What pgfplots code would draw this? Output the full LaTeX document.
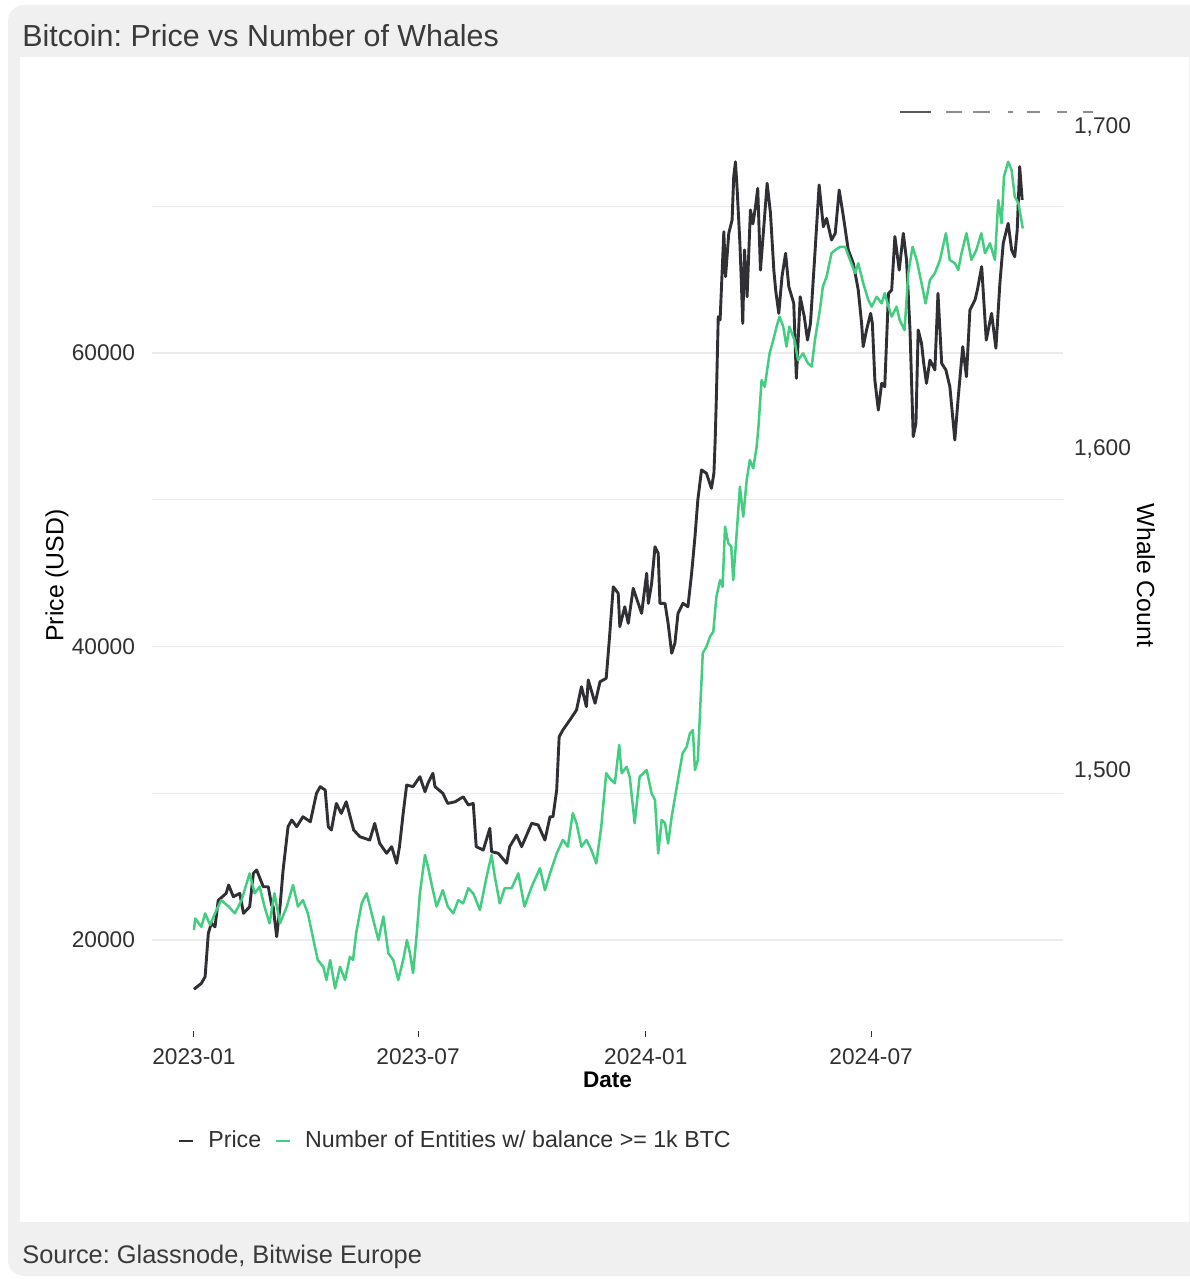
\documentclass[border=0pt]{standalone}
\usepackage{pgfplots}
\pgfplotsset{compat=1.18}
\usepackage{pgfplotstable}
\usepackage{fontspec}
\setmainfont{Liberation Sans}
\frenchspacing

\definecolor{pricec}{HTML}{2F2F34}
\definecolor{whalec}{HTML}{43CD80}
\definecolor{gridc}{HTML}{EBEBEB}
\definecolor{framec}{HTML}{F0F0F0}
\definecolor{headc}{HTML}{3A3A3A}
\definecolor{tickc}{HTML}{303030}

% x = days since 2023-01-01
\pgfplotstableread{
day price
0 16640
6 17050
9 17500
11.6 20450
14 21140
17 20900
19.6 22700
26 23180
28 23750
31.8 22950
37 23180
40 21820
45 22270
48 24545
50.6 24770
56 23630
60 23630
62.7 22380
64 22270
66.8 20230
69.5 22270
72 24770
76 27720
79 28180
83 27720
88 28400
94 28060
99 30000
102 30450
106 30220
108.5 27720
111 27500
115 29310
119 28630
123 29420
129 27500
134 27040
142 26810
146 27950
150 26590
155.6 25910
159.7 26360
163.7 25230
166 26360
169 28630
171.8 30560
177 30450
182.5 31130
186.6 30100
189 30680
193 31360
194.7 30450
201 30000
205 29310
211 29420
217.5 29760
221.6 29200
225.6 29310
228 26360
233.7 26130
239 27610
240.4 26020
245.8 25910
252.6 25230
255 26360
260.6 27150
264.7 26360
272.8 27950
278 27840
283.5 26810
287.6 28400
290 28400
293 30220
295 33850
298 34310
303.7 35000
309 35670
313 37260
317 35900
318.5 37720
324 36130
328 37600
333 37830
335.5 40440
338.7 44070
342.7 43620
344 41350
348 42710
350.8 41580
354.8 43960
361.6 42260
365.7 44990
367 42940
369.7 44300
372.4 46800
375 46350
376.4 42940
380.5 42940
383 41580
385.9 39540
388.5 40220
391 42260
395 42940
399 42710
402 44990
404.7 47480
407 49980
410 52030
414 51800
418 50780
420 51800
421 54000
422 57000
423.5 62470
425 62250
428 68260
429.4 65200
432 68150
434.7 69060
436 72010
437.4 73030
438.8 71100
441 67470
442 65200
443.3 62020
444.7 67020
446.8 63830
449.5 69740
451.5 68800
453.6 69970
455.4 71220
457.6 65650
460.3 68600
463 71560
465.7 69520
468.4 65650
470 64200
472.4 62700
475 65200
477.9 66790
480.5 64520
484.5 63380
486.6 58270
489.7 63830
493 62470
495.6 60880
498 62020
501.6 66790
505 71450
508.4 68600
511 69170
515 67700
518 68150
521.2 71100
524.6 69290
528.5 67020
532.6 66110
536.6 64290
539.3 62020
540.6 60430
543.3 61570
546.6 62700
548 62020
550 58160
552.8 56110
555.5 57930
558 57700
561 64060
563.6 64290
566.2 67930
569.7 65650
573 68150
575.6 66330
578.4 61570
581 54300
583.2 55210
585 61570
587.7 60660
589.5 59290
591.7 57930
594.5 59520
598.5 58840
601 64060
604 59290
607.4 58840
610.6 57700
614.6 54070
617.4 57020
621 60430
624 58380
626.8 62930
630.9 63610
632.8 64290
636.3 65880
640 60880
644.3 62700
647.8 60320
651 64740
653.7 67470
657.7 68830
660.5 67020
663 66560
665 68380
667 72700
669 70430
}\pricetable

\pgfplotstableread{
day whales
0 1450.6
1 1454.2
6 1451.6
9 1455.8
13 1452.2
17 1455.8
22 1459.9
28 1457.9
33 1455.8
38.5 1459.9
42.5 1465.1
45 1468.2
49 1462
53 1464.1
57 1457.9
61 1452.7
65 1462
69.5 1452.7
75 1457.9
80 1464.6
84 1457.9
88 1459.9
92 1455.8
96 1448.5
100 1441.3
104.5 1439.2
107 1435.1
110 1441.3
114 1432.5
118 1439.2
122 1435.1
126 1442.3
128.5 1441.3
131 1449.6
135.5 1458.9
139.5 1462
143.5 1455.8
149 1447.5
153 1454.8
157 1443.4
161 1441.3
165 1435.1
169 1441.3
172 1447.5
174.5 1443.4
177 1437.2
180 1449.6
182.5 1462
186.6 1473.9
189 1470.3
193 1463
196 1457.9
201 1463
205 1457.9
209.5 1455.8
213.5 1459.9
217.5 1458.9
221.6 1463.6
225.6 1462
231 1456.8
236.4 1467.2
240.4 1473.9
243 1467.2
247 1458.9
251 1463.6
256.6 1463.6
262 1468.2
267 1457.9
272.8 1464.1
279.5 1469.8
283.5 1463
287.6 1468.2
293 1474.4
298 1478.6
302 1476.5
306 1486.9
309 1483.8
313 1476.5
317 1478.6
321 1475.5
325 1471.3
329 1482.7
333 1499.3
337 1497.2
340 1496.2
343.5 1508.1
345.5 1499.3
349.5 1501.3
352 1498.2
356 1483.8
360 1498.2
365.7 1500.3
369.7 1493
372.4 1491
375 1474.4
377.8 1484.8
380.5 1483.8
383 1477.5
385.9 1485.8
390 1495.1
394.7 1505.5
398 1507.5
400.6 1511.7
403 1512.7
404.7 1500.3
407 1503.4
409 1520
411 1536.6
414 1538.6
416.8 1541.7
419.5 1543.3
422 1554.1
425 1559.3
427 1557.2
429 1575.9
431.6 1570.7
434 1569.7
435.6 1559.3
438 1571.7
441 1588.3
443.7 1579
446.5 1590.4
449 1596.6
451.8 1594
454.5 1600.7
456 1606.9
458.5 1621.4
461 1619.3
465 1629.7
468 1633.9
470.6 1638
473 1641.1
476 1638
478.6 1631.8
481 1638
485 1633.9
488 1627.6
492 1629.7
496 1626.6
499 1625.6
501.6 1633.9
505.6 1643.2
508 1650.4
511 1653.5
515 1660.8
518 1661.8
522 1662.8
526 1662.8
530 1658.7
534 1654.6
536.6 1657.7
540.6 1651.5
544.7 1646.3
547.5 1644.2
551.5 1647.3
555.5 1645.2
558 1648.4
561 1644.2
563.6 1641.1
567.6 1644.2
570 1640.1
574 1636.9
577 1654.6
580.5 1662.8
583.8 1658.7
587.7 1651.5
591 1645.2
594.5 1652.5
598.5 1654.6
602.6 1658.7
607.4 1667
610.5 1658.7
614.6 1657.7
617.4 1655.6
620 1660.8
624 1667
628 1658.7
632 1661.8
636 1667
639 1660.8
643 1663.9
647 1658.7
649.7 1677.3
652.4 1670.1
654.3 1684.6
657.7 1689.2
660.5 1686.6
663 1678.4
666 1676.3
669.5 1668.5
}\whaletable

\pgfplotsset{
  panel/.style={
    at={(76pt,-515.5pt)}, anchor=south west,
    scale only axis, width=455.5pt, height=455.5pt,
    xmin=-33.9, xmax=702,
    axis line style={draw=none},
    tick label style={font=\fontsize{11.35}{13}\selectfont, text=tickc},
    /pgf/number format/assume math mode=true,
    clip=false,
  },
}

\begin{document}
\begin{tikzpicture}
% frame, in pixel units of the reference
\begin{scope}[x=0.5pt,y=-0.5pt]
  \useasboundingbox (0,0) rectangle (1189,1279);
  \fill[framec, rounded corners=8pt] (8,5) rectangle (1210,1276);
  \fill[white] (20,57) rectangle (1189,1222);
  \node[anchor=base west, inner sep=0, font=\fontsize{15.2}{18}\selectfont, text=headc]
    at (22,47) {Bitcoin: Price vs Number of Whales};
  \node[anchor=base west, inner sep=0, font=\fontsize{12.7}{15}\selectfont, text=headc]
    at (22,1263) {Source: Glassnode, Bitwise Europe};
  % cut-off text remnant above the panel
  \draw[black!65, line width=1.2pt] (900,112) -- (931,112);
  \draw[black!45, line width=1.2pt] (946,112) -- (962,112) (973,112) -- (990,112)
    (1008,112) -- (1013,112) (1027,112) -- (1040,112) (1057,112) -- (1067,112)
    (1083,112) -- (1093,112);
\end{scope}

\begin{axis}[panel,
  ymin=13800, ymax=75875,
  xtick={0,181,365,547},
  xticklabels={2023-01,2023-07,2024-01,2024-07},
  xtick pos=left, xticklabel pos=left, tick align=outside,
  major tick length=3pt,
  xtick style={draw=tickc, line width=0.5pt},
  xticklabel style={yshift=-2.5pt},
  ytick={20000,40000,60000},
  minor ytick={30000,50000,70000},
  ytick pos=left, ytick style={draw=none},
  minor tick length=0pt,
  ymajorgrids, yminorgrids,
  major grid style={draw=gridc, line width=0.6pt},
  minor grid style={draw=gridc, line width=0.6pt},
  /pgf/number format/1000 sep={},
  scaled y ticks=false,
  yticklabel style={xshift=-2pt},
  xlabel={\textbf{Date}},
  xlabel style={at={(axis description cs:0.5,-0.0538)}, anchor=center,
    font=\fontsize{11.3}{13}\selectfont, text=black},
  ylabel={Price (USD)},
  ylabel style={at={(axis description cs:-0.1043,0.5)}, anchor=center,
    font=\fontsize{12.4}{14}\selectfont, text=black},
]
\addplot[pricec, line width=1.45pt, line join=round] table[x=day,y=price] {\pricetable};
\end{axis}

\begin{axis}[panel,
  ymin=1419.25, ymax=1702.17,
  xtick=\empty,
  ytick={1500,1600,1700},
  ytick pos=right, yticklabel pos=right,
  ytick style={draw=none},
  /pgf/number format/1000 sep={,},
  yticklabel style={xshift=2pt},
  ylabel={Whale Count},
  ylabel style={at={(axis description cs:1.0911,0.5)}, anchor=center, rotate=180,
    font=\fontsize{12.4}{14}\selectfont, text=black},
  legend columns=2,
  legend style={at={(axis description cs:0.0285,-0.1207)}, anchor=west,
    draw=none, fill=none, inner sep=0pt, column sep=7pt,
    nodes={inner sep=0pt}, font=\fontsize{11.6}{14}\selectfont, text=tickc},
  legend image code/.code={\draw[#1, line width=1pt] (0pt,0pt) -- (7pt,0pt);},
]
\addlegendimage{pricec}
\addlegendentry{Price}
\addplot[whalec, line width=1.25pt, line join=round] table[x=day,y=whales] {\whaletable};
\addlegendentry{Number of Entities w/ balance >= 1k BTC}
\end{axis}
\end{tikzpicture}
\end{document}
